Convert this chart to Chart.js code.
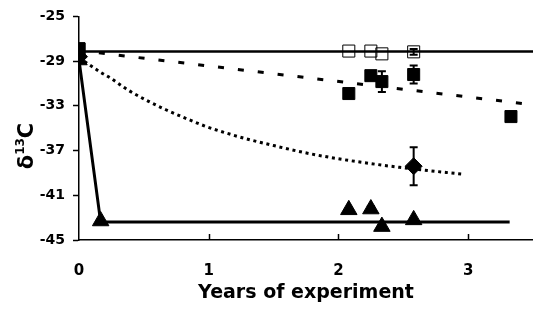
<!DOCTYPE html>
<html>
<head>
<meta charset="utf-8">
<script src="https://cdn.jsdelivr.net/npm/chart.js@4.4.0/dist/chart.umd.min.js"></script>
<style>
  body { margin: 0; background: #fff; overflow: hidden; }
  canvas { display: block; }
</style>
</head>
<body>
<canvas id="myChart" width="533" height="311"></canvas>
<script>
// open squares
const openSqX = [0, 2.08, 2.25, 2.335, 2.58];
const openSqY = [-27.9, -28.1, -28.1, -28.35, -28.17];
const openSqErr = [0, 0, 0, 0, 0.25];
// filled squares
const fillSqX = [0, 2.08, 2.25, 2.335, 2.58, 3.33];
const fillSqY = [-27.9, -31.9, -30.3, -30.83, -30.2, -33.96];
const fillSqErr = [0, 0, 0, 0.93, 0.8, 0];
// diamonds
const diaX = [0, 2.58];
const diaY = [-28.6, -38.4];
const diaErr = [0, 1.7];
// triangles
const triX = [0, 0.167, 2.08, 2.25, 2.335, 2.58];
const triY = [-28.9, -43.3, -42.3, -42.23, -43.8, -43.2];
const triErr = [0, 0, 0, 0.25, 0, 0];

// fitted lines
const solidFitX = [0, 3.5];
const solidFitY = [-28.15, -28.15];
const dashFitX = [0, 3.5];
const dashFitY = [-28.05, -32.9];
const dotFitX = [0, 0.07, 0.16, 0.24, 0.38, 0.52, 0.67, 0.83, 0.98, 1.14, 1.29, 1.5, 1.725, 1.98, 2.24, 2.47, 2.7, 2.95];
const dotFitY = [-28.7, -29.25, -29.95, -30.5, -31.6, -32.5, -33.35, -34.15, -34.85, -35.45, -35.95, -36.55, -37.15, -37.7, -38.15, -38.5, -38.8, -39.1];
const triLineX = [0, 0.167, 3.32];
const triLineY = [-28.9, -43.4, -43.4];

const yTicks = [-45, -41, -37, -33, -29, -25];
const xTicks = [0, 1, 2, 3];

const FONT = "'DejaVu Sans', sans-serif";

function pts(xs, ys) {
  return xs.map((x, i) => ({ x: x, y: ys[i] }));
}

// error bars
const errorBars = {
  id: 'errorBars',
  afterDatasetsDraw(chart) {
    const ctx = chart.ctx;
    const xs = chart.scales.x, ys = chart.scales.y;
    const sets = [[openSqX, openSqY, openSqErr], [fillSqX, fillSqY, fillSqErr], [diaX, diaY, diaErr], [triX, triY, triErr]];
    ctx.save();
    ctx.strokeStyle = '#000';
    ctx.lineWidth = 2;
    sets.forEach(s => {
      s[0].forEach((x, i) => {
        const e = s[2][i];
        if (!e) return;
        const px = xs.getPixelForValue(x);
        const top = ys.getPixelForValue(s[1][i] + e);
        const bot = ys.getPixelForValue(s[1][i] - e);
        ctx.beginPath();
        ctx.moveTo(px, top); ctx.lineTo(px, bot);
        ctx.moveTo(px - 4, top); ctx.lineTo(px + 4, top);
        ctx.moveTo(px - 4, bot); ctx.lineTo(px + 4, bot);
        ctx.stroke();
      });
    });
    ctx.restore();
  }
};

// x ticks point inward, y title with superscript
const axisExtras = {
  id: 'axisExtras',
  afterDraw(chart) {
    const ctx = chart.ctx;
    const xs = chart.scales.x;
    const bottom = chart.chartArea.bottom;
    ctx.save();
    ctx.strokeStyle = '#000';
    ctx.lineWidth = 1.5;
    xTicks.forEach(v => {
      if (v === 0) return;
      const px = Math.round(xs.getPixelForValue(v)) + 0.5;
      ctx.beginPath();
      ctx.moveTo(px, bottom);
      ctx.lineTo(px, bottom - 6);
      ctx.stroke();
    });

    ctx.translate(25, 146);
    ctx.rotate(-Math.PI / 2);
    ctx.fillStyle = '#000';
    ctx.textBaseline = 'alphabetic';
    const big = 'bold 21px ' + FONT, small = 'bold 12px ' + FONT;
    ctx.font = big;
    const w1 = ctx.measureText('δ').width;
    const w3 = ctx.measureText('C').width;
    ctx.font = small;
    const w2 = ctx.measureText('13').width;
    let x0 = -(w1 + w2 + w3) / 2;
    const base = 7.5;
    ctx.font = big;
    ctx.fillText('δ', x0, base);
    ctx.font = small;
    ctx.fillText('13', x0 + w1, base - 9);
    ctx.font = big;
    ctx.fillText('C', x0 + w1 + w2, base);
    ctx.restore();
  }
};

const marker = { borderColor: '#000', pointBorderColor: '#000', pointBorderWidth: 1, showLine: false };

const data = {
  datasets: [
    Object.assign({ data: pts(triX, triY), pointStyle: 'triangle', pointRadius: 9.5, pointBackgroundColor: '#000' }, marker),
    Object.assign({ data: pts(diaX, diaY), pointStyle: 'rectRot', pointRadius: 8.5, pointBackgroundColor: '#000' }, marker),
    Object.assign({ data: pts(fillSqX, fillSqY), pointStyle: 'rect', pointRadius: 8.5, pointBackgroundColor: '#000' }, marker),
    Object.assign({ data: pts(openSqX, openSqY), pointStyle: 'rect', pointRadius: 8.5, pointBackgroundColor: 'rgba(0,0,0,0)', pointBorderWidth: 1.5 }, marker),
    { data: pts(solidFitX, solidFitY), showLine: true, pointRadius: 0, borderColor: '#000', borderWidth: 2.5 },
    { data: pts(dashFitX, dashFitY), showLine: true, pointRadius: 0, borderColor: '#000', borderWidth: 3, borderDash: [6, 14], borderCapStyle: 'butt' },
    { data: pts(dotFitX, dotFitY), showLine: true, pointRadius: 0, borderColor: '#000', borderWidth: 3, borderDash: [3, 3.7], cubicInterpolationMode: 'monotone' },
    { data: pts(triLineX, triLineY), showLine: true, pointRadius: 0, borderColor: '#000', borderWidth: 3 }
  ]
};

const config = {
  type: 'scatter',
  data: data,
  options: {
    responsive: false,
    animation: false,
    devicePixelRatio: 1,
    layout: { autoPadding: false, padding: { top: 15, right: 0, left: 0, bottom: 0 } },
    plugins: {
      legend: { display: false },
      tooltip: { enabled: false }
    },
    scales: {
      x: {
        type: 'linear',
        min: 0,
        max: 3.5,
        afterFit: s => { s.height = 71; },
        afterBuildTicks: s => { s.ticks = xTicks.map(v => ({ value: v })); },
        grid: { display: true, drawOnChartArea: false, drawTicks: false },
        border: { display: true, color: '#000', width: 1.5 },
        ticks: { color: '#000', padding: 22, font: { family: FONT, size: 15, weight: 'bold' } },
        title: {
          display: true,
          text: 'Years of experiment',
          color: '#000',
          padding: { top: 0, bottom: 7 },
          font: { family: FONT, size: 19, weight: 'bold' }
        }
      },
      y: {
        type: 'linear',
        min: -45,
        max: -25,
        afterFit: s => { s.width = 79; },
        afterBuildTicks: s => { s.ticks = yTicks.map(v => ({ value: v })); },
        grid: { display: true, drawOnChartArea: false, drawTicks: true, tickLength: 6, color: '#000', tickWidth: 1.5 },
        border: { display: true, color: '#000', width: 1.5 },
        ticks: { color: '#000', padding: 8, font: { family: FONT, size: 14, weight: 'bold' } }
      }
    }
  },
  plugins: [errorBars, axisExtras]
};

const myChart = new Chart(document.getElementById('myChart'), config);
</script>
</body>
</html>
